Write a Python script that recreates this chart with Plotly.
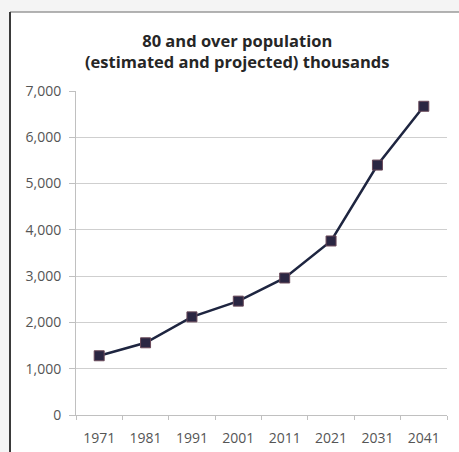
import plotly.graph_objects as go

# Population aged 80 and over, thousands (estimated and projected)
years = ["1971", "1981", "1991", "2001", "2011", "2021", "2031", "2041"]
population = [1280, 1560, 2120, 2460, 2960, 3760, 5400, 6670]

y_ticks = [0, 1000, 2000, 3000, 4000, 5000, 6000, 7000]

W, H = 459, 452
L, R, T, B = 76, 12, 91, 37
plot_w = W - L - R
plot_h = H - T - B

FONT = "'Open Sans', Lato, sans-serif"

fig = go.Figure()
fig.add_trace(go.Scatter(
    x=years, y=population,
    mode="lines+markers",
    line=dict(color="#1e2540", width=2.5),
    marker=dict(symbol="square", size=10, color="#2a2642",
                line=dict(color="#6a4a5a", width=1)),
    cliponaxis=False,
    hoverinfo="x+y",
))

fig.update_layout(
    width=W, height=H,
    margin=dict(l=L, r=R, t=T, b=B, pad=0, autoexpand=False),
    paper_bgcolor="#f4f4f4",
    plot_bgcolor="white",
    showlegend=False,
    font=dict(family=FONT, color="#555555", size=14),
    xaxis=dict(
        type="category",
        range=[-0.5, 7.5],
        automargin=False,
        tickson="boundaries",
        ticks="outside", ticklen=4, tickcolor="#c0c0c0",
        ticklabelstandoff=10,
        showgrid=False,
        showline=True, linecolor="#c0c0c0", linewidth=1,
        tickfont=dict(size=14, color="#555555"),
    ),
    yaxis=dict(
        range=[0, 7000],
        automargin=False,
        tickvals=y_ticks,
        tickformat=",d",
        ticks="outside", ticklen=6, tickcolor="#c0c0c0",
        ticklabelstandoff=5,
        showgrid=True, gridcolor="#cfcfcf", gridwidth=1,
        showline=True, linecolor="#c0c0c0", linewidth=1,
        zeroline=False,
        tickfont=dict(size=14, color="#555555"),
    ),
    shapes=[
        # white chart panel with its frame edges
        dict(type="rect", xref="paper", yref="paper", layer="below",
             x0=-(L - 10) / plot_w, x1=(W - L) / plot_w,
             y0=-B / plot_h, y1=1 + (T - 12) / plot_h,
             fillcolor="white", line=dict(width=0)),
        dict(type="line", xref="paper", yref="paper",
             x0=-(L - 10) / plot_w, x1=(W - L) / plot_w,
             y0=1 + (T - 12) / plot_h, y1=1 + (T - 12) / plot_h,
             line=dict(color="#9a9a9a", width=1.5)),
        dict(type="line", xref="paper", yref="paper",
             x0=-(L - 10) / plot_w, x1=-(L - 10) / plot_w,
             y0=-B / plot_h, y1=1 + (T - 12) / plot_h,
             line=dict(color="#3a3a3a", width=2)),
    ],
    annotations=[
        dict(text="<b>80 and over population<br>(estimated and projected) thousands</b>",
             xref="paper", yref="paper",
             x=(237 - L) / plot_w, y=1 + (T - 50.5) / plot_h,
             xanchor="center", yanchor="middle", showarrow=False,
             font=dict(size=16.5, color="#262626", family=FONT)),
    ],
)

fig.write_html("out.html")
